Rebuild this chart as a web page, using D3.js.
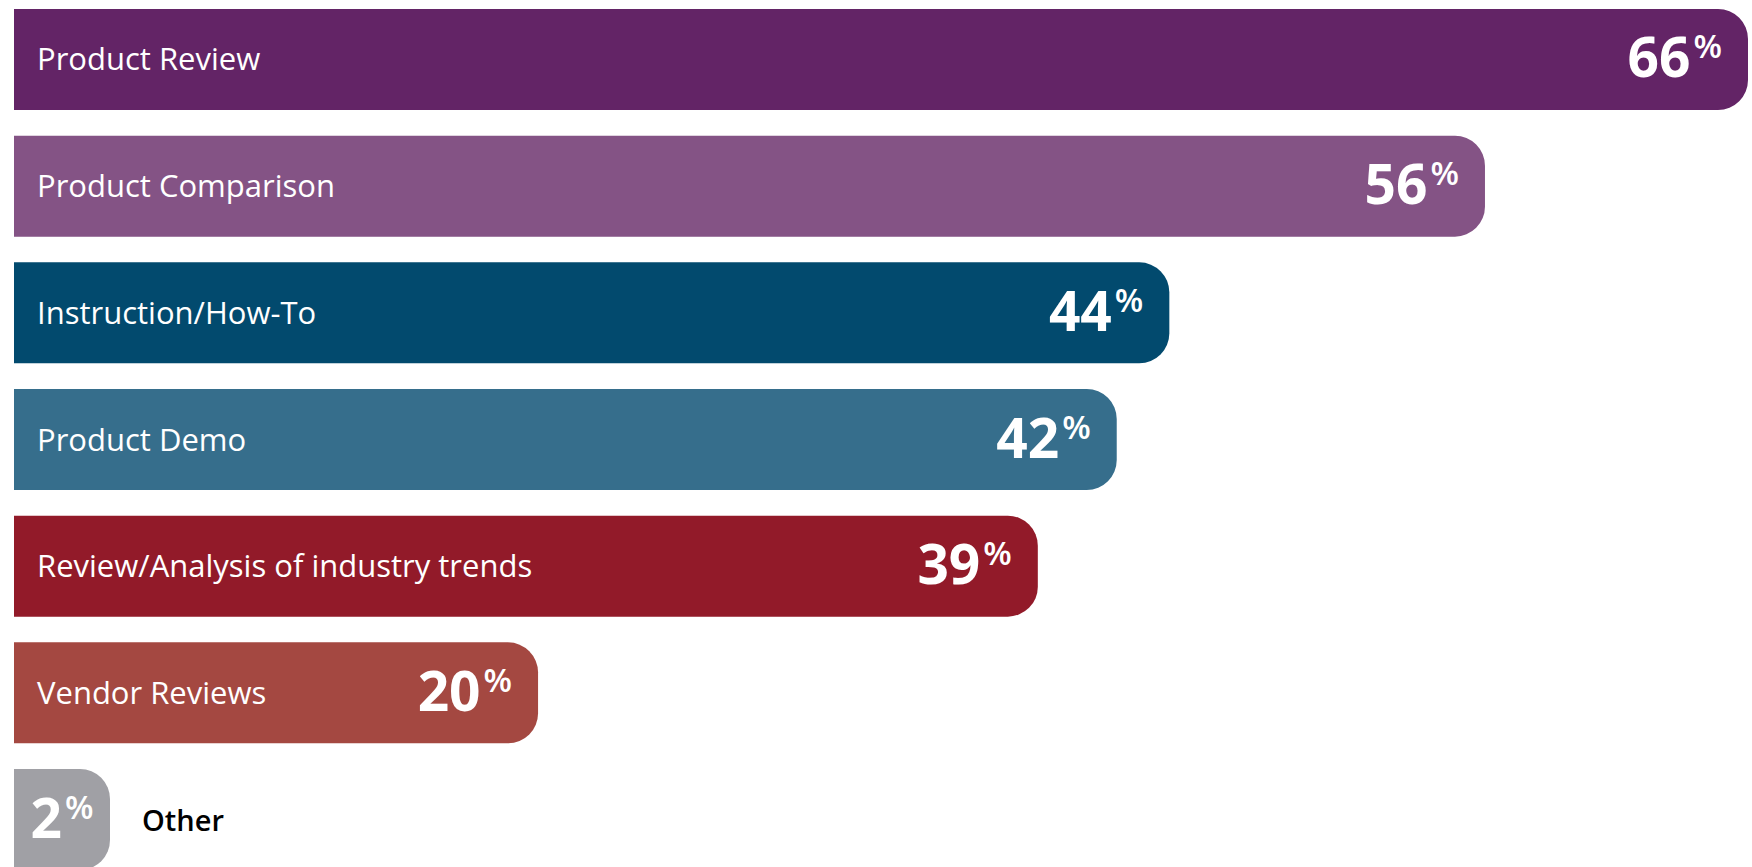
<!DOCTYPE html>
<html>
<head>
<meta charset="utf-8">
<script src="https://cdn.jsdelivr.net/npm/d3@7/dist/d3.min.js"></script>
<style>
  html, body { margin: 0; padding: 0; background: #fff; }
  svg { display: block; }
</style>
</head>
<body>
<svg id="chart" width="1752" height="867"></svg>
<script>
// Content types and the share of respondents choosing each
const categories = [
  "Product Review",
  "Product Comparison",
  "Instruction/How-To",
  "Product Demo",
  "Review/Analysis of industry trends",
  "Vendor Reviews",
  "Other"
];
const values = [66, 56, 44, 42, 39, 20, 2];
const colors = ["#632466", "#845385", "#024a6e", "#366e8c", "#921a29", "#a44841", "#a0a0a5"];

const W = 1752, H = 867;
const barLeft = 14;
const radius = 30;
const minBarEnd = 110;      // narrowest bar still fits its value label
const fontFamily = "'Open Sans', 'Noto Sans', sans-serif";

const svg = d3.select("#chart");

const x = d3.scaleLinear().domain([0, 66]).range([12, 1748]);
const y = d3.scaleBand()
  .domain(categories)
  .range([9, 870])
  .paddingInner(0.203)
  .paddingOuter(0);

const data = categories.map((c, i) => ({ cat: c, value: values[i], color: colors[i], last: i === categories.length - 1 }));

// Bar with square left end and rounded right end
function barPath(x0, x1, y0, h, r) {
  r = Math.min(r, (x1 - x0), h / 2);
  return `M${x0},${y0}H${x1 - r}A${r},${r} 0 0 1 ${x1},${y0 + r}` +
         `V${y0 + h - r}A${r},${r} 0 0 1 ${x1 - r},${y0 + h}H${x0}Z`;
}

const barEnd = d => Math.max(x(d.value), minBarEnd);

const g = svg.selectAll("g.bar").data(data).join("g").attr("class", "bar");

g.append("path")
  .attr("d", d => barPath(barLeft, barEnd(d), y(d.cat), y.bandwidth(), radius))
  .attr("fill", d => d.color);

// Category names: inside the bar, or beside the narrow last bar
g.append("text")
  .attr("x", d => d.last ? barEnd(d) + 32 : 37)
  .attr("y", d => y(d.cat) + y.bandwidth() / 2 + 11)
  .attr("font-family", fontFamily)
  .attr("font-size", d => d.last ? 29 : 31)
  .attr("font-weight", d => d.last ? 600 : 500)
  .attr("fill", d => d.last ? "#000" : "#fff")
  .text(d => d.cat);

// Value labels with raised percent sign
const vt = g.append("text")
  .attr("x", d => d.last ? (barLeft + barEnd(d)) / 2 : barEnd(d) - 26)
  .attr("y", d => y(d.cat) + y.bandwidth() / 2 + 18)
  .attr("text-anchor", d => d.last ? "middle" : "end")
  .attr("font-family", fontFamily)
  .attr("font-weight", 700)
  .attr("font-size", 55)
  .attr("fill", "#fff");

vt.append("tspan").text(d => d.value);
vt.append("tspan")
  .attr("dx", 3)
  .attr("dy", -19)
  .attr("font-size", 33)
  .attr("font-weight", 600)
  .text("%");
</script>
</body>
</html>
